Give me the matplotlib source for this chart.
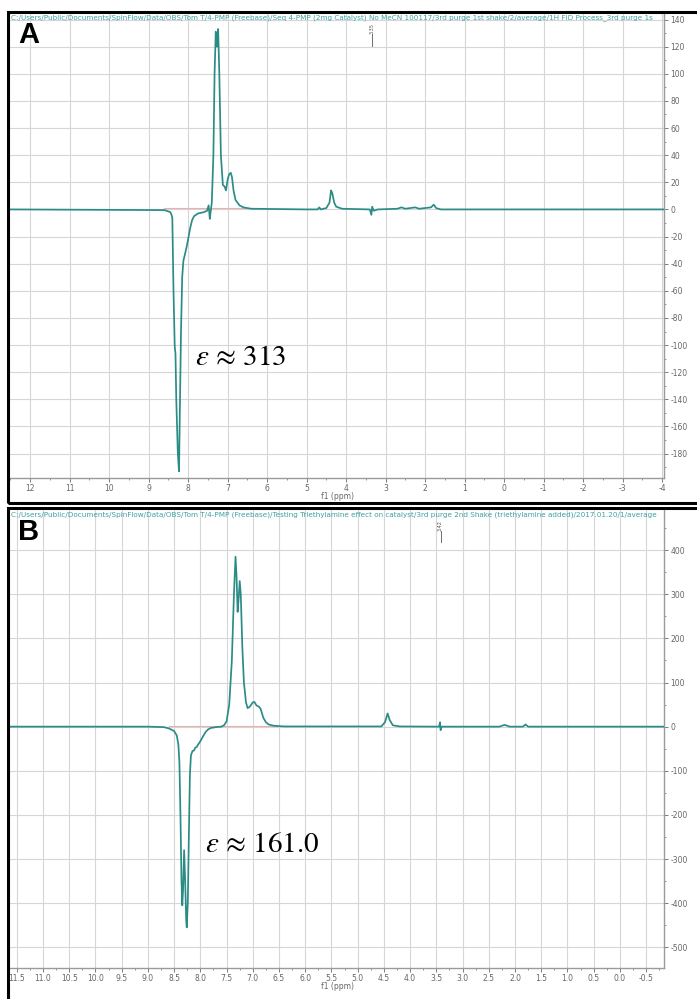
import numpy as np
import matplotlib
matplotlib.use('Agg')
import matplotlib.pyplot as plt
import matplotlib.transforms as mtransforms
from matplotlib.patches import Rectangle
from matplotlib.ticker import MultipleLocator, FormatStrFormatter

plt.rcParams['mathtext.fontset'] = 'stix'
plt.rcParams['axes.unicode_minus'] = False

ppm_a = [12.5, 8.6, 8.45, 8.42, 8.40, 8.37, 8.34, 8.33, 8.32, 8.30, 8.26, 8.23, 8.21,
         8.18, 8.15, 8.12, 8.08, 8.04, 8.00, 7.95, 7.90, 7.85, 7.75, 7.60, 7.52, 7.48,
         7.45, 7.43, 7.40, 7.36, 7.33, 7.30, 7.27, 7.24, 7.21, 7.17, 7.12, 7.08, 7.04,
         7.00, 6.96, 6.92, 6.89, 6.85, 6.80, 6.70, 6.60, 6.40, 5.00, 4.72, 4.68, 4.64,
         4.50, 4.42, 4.38, 4.35, 4.30, 4.25, 4.10, 3.40, 3.36, 3.34, 3.30, 3.20, 2.70,
         2.60, 2.50, 2.25, 2.15, 1.85, 1.78, 1.72, 1.60, -4.1]
int_a = [0, -0.5, -2, -4, -6, -60, -100, -104, -106, -140, -180, -193, -150,
         -90, -50, -38, -33, -28, -22, -14, -8, -5, -3, -2, -1, 3,
         -7, -2, 5, 40, 100, 131, 120, 133, 100, 40, 18, 17, 14,
         22, 26, 27, 24, 14, 7, 3, 1.5, 0.5, 0, 0, 1.5, 0,
         1, 5, 14, 12, 5, 2, 0.5, 0, -4, 2, -1, 0, 0.5,
         1.5, 0.5, 1.5, 0.5, 1.5, 3.5, 1, 0, 0]

# spectrum B (ppm, intensity)
ppm_b = [11.63, 9.0, 8.7, 8.6, 8.5, 8.45, 8.42, 8.40, 8.38, 8.36, 8.345, 8.33, 8.31,
         8.29, 8.27, 8.26, 8.24, 8.22, 8.20, 8.18, 8.15, 8.12, 8.10, 8.07, 8.04, 8.00,
         7.95, 7.90, 7.85, 7.80, 7.70, 7.60, 7.55, 7.50, 7.45, 7.40, 7.36, 7.33, 7.31,
         7.29, 7.27, 7.25, 7.23, 7.20, 7.17, 7.13, 7.10, 7.06, 7.00, 6.97, 6.93, 6.88,
         6.85, 6.80, 6.75, 6.70, 6.60, 6.40, 4.55, 4.48, 4.43, 4.39, 4.33, 4.20, 3.45,
         3.43, 3.42, 3.40, 2.3, 2.2, 2.1, 1.85, 1.8, 1.75, -0.84]
int_b = [0, 0, -1, -4, -10, -20, -40, -80, -200, -350, -405, -370, -280,
         -350, -440, -455, -400, -250, -110, -65, -55, -54, -48, -46, -40, -33,
         -22, -12, -6, -3, -1, 0, 3, 12, 50, 150, 300, 385, 340,
         260, 290, 330, 300, 180, 100, 55, 42, 45, 55, 56, 48, 45,
         40, 20, 10, 5, 2, 0.5, 0.5, 10, 30, 15, 3, 0.5, 0,
         10, -8, 0, 0, 4, 0, 0, 5, 0, 0]

title_a = ('C:/Users/Public/Documents/SpinFlow/Data/OBS/Tom T/4-PMP (Freebase)/Seq 4-PMP (2mg Catalyst) '
           'No MeCN 100117/3rd purge 1st shake/2/average/1H FID Process_3rd purge 1s')
title_b = ('C:/Users/Public/Documents/SpinFlow/Data/OBS/Tom T/4-PMP (Freebase)/Testing Triethylamine effect '
           'on catalyst/3rd purge 2nd Shake (triethylamine added)/2017.01.20/1/average')

W, H = 697, 999
teal = '#2b8c86'
grid_c = '#d6d6d6'
tick_c = '#666666'


def box(x0, y0, x1, y1):
    return [x0 / W, 1 - y1 / H, (x1 - x0) / W, (y1 - y0) / H]


fig = plt.figure(figsize=(6.97, 9.99), dpi=100)


def panel(rect, ppm, vals, xlim, ylim, xmaj, xmin, ymaj, ymin, title, letter, eps_txt, eps_xy, peak_ppm, peak_lab):
    ax = fig.add_axes(box(*rect))
    ax.plot(ppm, vals, color=teal, lw=1.25, zorder=3)
    ax.plot([8.6, 6.5], [1.0, 1.0], color='#e8b0b0', lw=0.8, zorder=2)
    ax.set_xlim(*xlim)
    ax.set_ylim(*ylim)
    ax.xaxis.set_major_locator(MultipleLocator(xmaj))
    ax.xaxis.set_minor_locator(MultipleLocator(xmin))
    ax.yaxis.set_major_locator(MultipleLocator(ymaj))
    ax.yaxis.set_minor_locator(MultipleLocator(ymin))
    ax.yaxis.tick_right()
    ax.grid(True, which='major', color=grid_c, lw=0.8)
    ax.axhline(0, color='#b8b8b8', lw=0.6, zorder=1)
    for s in ['left', 'top']:
        ax.spines[s].set_visible(False)
    for s in ['right', 'bottom']:
        ax.spines[s].set_color('#9a9a9a')
        ax.spines[s].set_linewidth(1.0)
    ax.tick_params(axis='both', which='major', labelsize=5.5, colors=tick_c, length=3, width=0.6, pad=1.5)
    ax.tick_params(axis='both', which='minor', colors=tick_c, length=1.5, width=0.5)
    ax.set_xlabel('f1 (ppm)', fontsize=5.5, color=tick_c, labelpad=-1)
    if xmaj == 0.5:
        ax.xaxis.set_major_formatter(FormatStrFormatter('%.1f'))
    ax.text(0.002, 0.997, title, transform=ax.transAxes, fontsize=5.2, color='#3fa0a0',
            ha='left', va='top', zorder=5)
    ax.text(0.012, 0.982, letter, transform=ax.transAxes, fontsize=21, fontweight='bold',
            family='Liberation Sans', ha='left', va='top')
    ax.text(eps_xy[0], eps_xy[1], eps_txt, fontsize=21, family='STIXGeneral', ha='left', va='center')
    trans = mtransforms.blended_transform_factory(ax.transData, ax.transAxes)
    ax.text(peak_ppm, 0.978, peak_lab, transform=trans, rotation=90, fontsize=3.5, color='#555555',
            ha='center', va='top')
    ax.plot([peak_ppm, peak_ppm], [0.93, 0.955], transform=trans, color='#555555', lw=0.6)
    return ax


panel((10, 13, 664, 478), ppm_a, int_a, (12.51, -4.05), (-198, 144.8), 1, 0.5, 20, 10,
      title_a, 'A', r'$\varepsilon$ ≈ 313', (7.82, -110), 3.35, '3.35')
panel((10, 510, 664, 968), ppm_b, int_b, (11.63, -0.84), (-547, 491), 0.5, 0.25, 100, 50,
      title_b, 'B', r'$\varepsilon$ ≈ 161.0', (7.91, -269), 3.42, '3.42')

# black screenshot borders
fig.patches.append(Rectangle((8 / W, 1 - 503 / H), 700 / W, 491 / H, transform=fig.transFigure,
                             fill=False, edgecolor='black', lw=2.2))
fig.patches.append(Rectangle((8 / W, 1 - 1010 / H), 700 / W, 502 / H, transform=fig.transFigure,
                             fill=False, edgecolor='black', lw=2.2))

fig.savefig('out.png', dpi=100)
